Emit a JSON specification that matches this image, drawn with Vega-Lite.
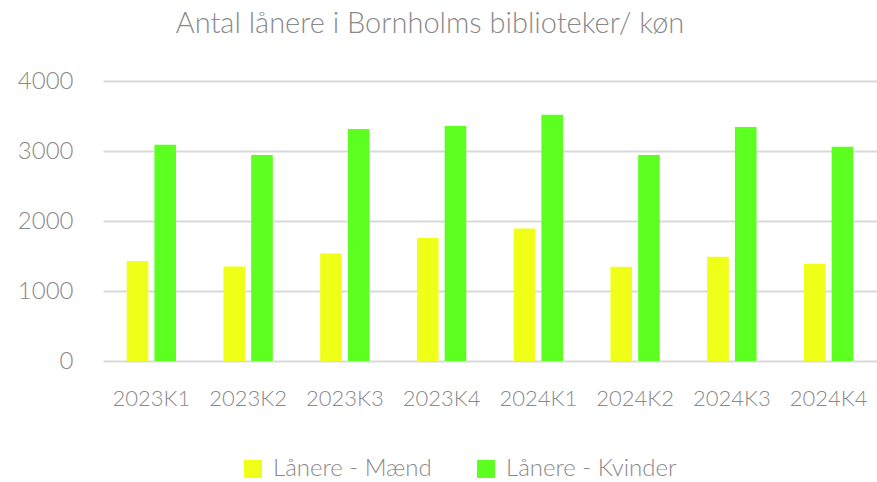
{
  "$schema": "https://vega.github.io/schema/vega-lite/v6.json",
  "width": 774,
  "height": 280,
  "autosize": "none",
  "padding": {"left": 103, "top": 81, "right": 0, "bottom": 121},
  "background": "white",
  "title": {
    "text": "Antal lånere i Bornholms biblioteker/ køn",
    "font": "Lato",
    "fontWeight": 300,
    "fontSize": 29,
    "color": "#8a8a8a",
    "anchor": "middle",
    "dx": -60,
    "offset": 30
  },
  "config": {
    "view": {"stroke": null},
    "font": "Lato"
  },
  "data": {
    "values": [
      {"kvartal": "2023K1", "serie": "Lånere - Mænd", "antal": 1429},
      {"kvartal": "2023K1", "serie": "Lånere - Kvinder", "antal": 3090},
      {"kvartal": "2023K2", "serie": "Lånere - Mænd", "antal": 1351},
      {"kvartal": "2023K2", "serie": "Lånere - Kvinder", "antal": 2943},
      {"kvartal": "2023K3", "serie": "Lånere - Mænd", "antal": 1537},
      {"kvartal": "2023K3", "serie": "Lånere - Kvinder", "antal": 3314},
      {"kvartal": "2023K4", "serie": "Lånere - Mænd", "antal": 1757},
      {"kvartal": "2023K4", "serie": "Lånere - Kvinder", "antal": 3357},
      {"kvartal": "2024K1", "serie": "Lånere - Mænd", "antal": 1894},
      {"kvartal": "2024K1", "serie": "Lånere - Kvinder", "antal": 3519},
      {"kvartal": "2024K2", "serie": "Lånere - Mænd", "antal": 1347},
      {"kvartal": "2024K2", "serie": "Lånere - Kvinder", "antal": 2943},
      {"kvartal": "2024K3", "serie": "Lånere - Mænd", "antal": 1490},
      {"kvartal": "2024K3", "serie": "Lånere - Kvinder", "antal": 3343},
      {"kvartal": "2024K4", "serie": "Lånere - Mænd", "antal": 1390},
      {"kvartal": "2024K4", "serie": "Lånere - Kvinder", "antal": 3061}
    ]
  },
  "mark": {"type": "bar"},
  "encoding": {
    "x": {
      "field": "kvartal",
      "type": "nominal",
      "sort": null,
      "scale": {"paddingInner": 0.49, "paddingOuter": 0.245},
      "axis": {
        "title": null,
        "labelAngle": 0,
        "domain": false,
        "ticks": false,
        "labelFont": "Lato",
        "labelFontWeight": 300,
        "labelFontSize": 22,
        "labelColor": "#8a8a8a",
        "labelPadding": 27
      }
    },
    "xOffset": {
      "field": "serie",
      "type": "nominal",
      "sort": ["Lånere - Mænd", "Lånere - Kvinder"],
      "scale": {"paddingInner": 0.22, "paddingOuter": 0}
    },
    "y": {
      "field": "antal",
      "type": "quantitative",
      "scale": {"domain": [0, 4000], "nice": false},
      "axis": {
        "title": null,
        "values": [0, 1000, 2000, 3000, 4000],
        "format": "d",
        "domain": false,
        "ticks": false,
        "grid": true,
        "gridColor": "#d9d9d9",
        "gridWidth": 2,
        "labelFont": "Lato",
        "labelFontWeight": 300,
        "labelFontSize": 24,
        "labelColor": "#8a8a8a",
        "labelPadding": 30
      }
    },
    "color": {
      "field": "serie",
      "type": "nominal",
      "sort": ["Lånere - Mænd", "Lånere - Kvinder"],
      "scale": {"domain": ["Lånere - Mænd", "Lånere - Kvinder"], "range": ["#f0ff17", "#5cff20"]},
      "legend": {
        "title": null,
        "orient": "none",
        "direction": "horizontal",
        "legendX": 138,
        "legendY": 376,
        "symbolType": "square",
        "symbolSize": 324,
        "symbolStrokeWidth": 0,
        "labelFont": "Lato",
        "labelFontWeight": 300,
        "labelFontSize": 24,
        "labelColor": "#8a8a8a",
        "labelOffset": 8,
        "columnPadding": 42,
        "labelLimit": 300
      }
    }
  }
}
